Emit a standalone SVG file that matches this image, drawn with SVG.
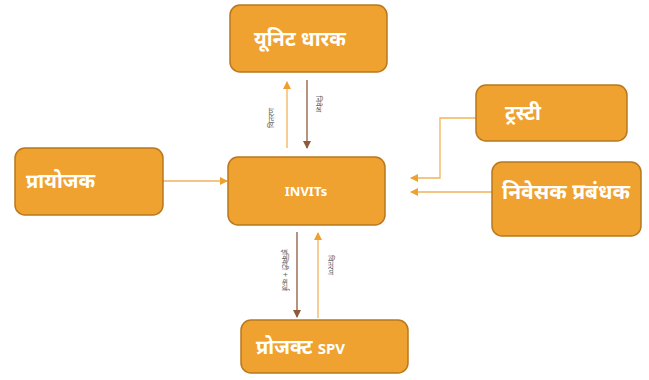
<svg xmlns="http://www.w3.org/2000/svg" width="649" height="380" viewBox="0 0 649 380">
<style>
.box{fill:#EFA22F;stroke:#B8781E;stroke-width:1.5}
.t{fill:#fff;font-family:"Noto Sans","Noto Sans Devanagari","Lohit Devanagari",sans-serif;font-weight:bold;font-size:20px}
.lbl{fill:#666;font-family:"Noto Sans","Noto Sans Devanagari",sans-serif;font-size:8px}
.o{stroke:#F2B25A;stroke-width:1.3;fill:none}
.b{stroke:#8E5A3C;stroke-width:1.3;fill:none}
</style>
<defs>
<marker id="ao" markerWidth="8" markerHeight="8" refX="7" refY="4" orient="auto" markerUnits="userSpaceOnUse"><path d="M0,0 L8,4 L0,8 Z" fill="#F0A030"/></marker>
<marker id="ab" markerWidth="8" markerHeight="8" refX="7" refY="4" orient="auto" markerUnits="userSpaceOnUse"><path d="M0,0 L8,4 L0,8 Z" fill="#8E5A3C"/></marker>
</defs>
<rect width="649" height="380" fill="#fff"/>
<g id="connectors">
<line class="o" x1="287" y1="148" x2="287" y2="82" marker-end="url(#ao)"/>
<line class="b" x1="307" y1="80" x2="307" y2="148" marker-end="url(#ab)"/>
<text class="lbl" transform="translate(274,118) rotate(-90)" text-anchor="middle">वितरण</text>
<text class="lbl" transform="translate(316,104) rotate(90)" text-anchor="middle">निवेश</text>
<line class="o" x1="163" y1="181" x2="227" y2="181" marker-end="url(#ao)"/>
<polyline class="o" points="476,118 440,118 440,178 411,178" marker-end="url(#ao)"/>
<line class="o" x1="492" y1="192" x2="411" y2="192" marker-end="url(#ao)"/>
<line class="b" x1="297" y1="232" x2="297" y2="317" marker-end="url(#ab)"/>
<line class="o" x1="318" y1="318" x2="318" y2="233" marker-end="url(#ao)"/>
<text class="lbl" transform="translate(282,270) rotate(90)" text-anchor="middle">इक्विटी + कर्ज</text>
<text class="lbl" transform="translate(328,265) rotate(90)" text-anchor="middle">वितरण</text>
</g>
<g id="unit-holders"><rect class="box" x="230" y="5" width="157" height="67" rx="10"/><text class="t" x="300" y="46" text-anchor="middle">यूनिट धारक</text></g>
<g id="invits"><rect class="box" x="228" y="157" width="157" height="68" rx="10"/><text class="t" x="306" y="196" text-anchor="middle" style="font-size:13px">INVITs</text></g>
<g id="sponsor"><rect class="box" x="15" y="148" width="148" height="67" rx="10"/><text class="t" x="26" y="188">प्रायोजक</text></g>
<g id="trustee"><rect class="box" x="476" y="85" width="151" height="56" rx="10"/><text class="t" x="505" y="120">ट्रस्टी</text></g>
<g id="investment-manager"><rect class="box" x="492" y="162" width="149" height="74" rx="10"/><text class="t" x="566" y="199" text-anchor="middle" style="font-size:21px">निवेसक प्रबंधक</text></g>
<g id="project-spv"><rect class="box" x="241" y="320" width="167" height="53" rx="10"/><text class="t" x="256" y="354">प्रोजक्ट <tspan style="font-size:15px">SPV</tspan></text></g>
</svg>
